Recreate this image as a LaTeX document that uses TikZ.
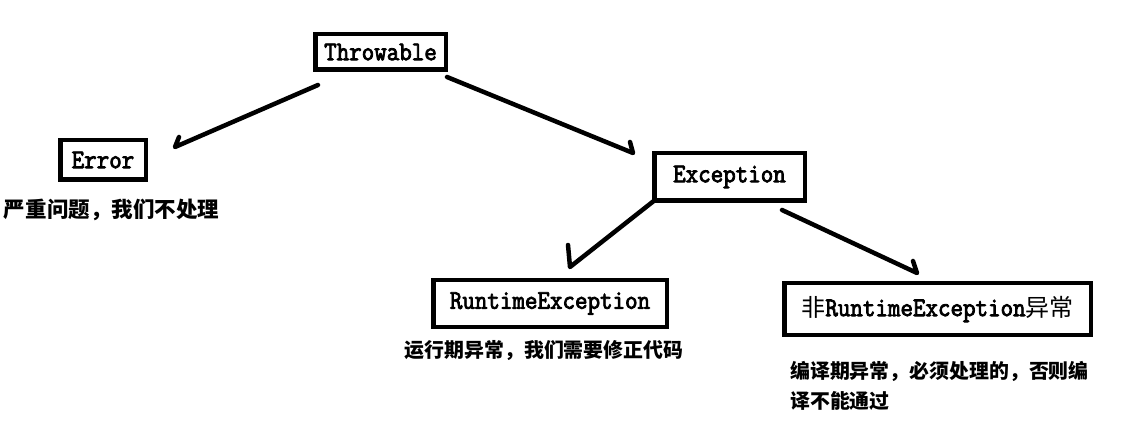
\documentclass[tikz,border=0pt]{standalone}
\usepackage{fontspec}
\newfontfamily\boxfont{Latin Modern Mono}[FakeBold=3, FakeStretch=0.9]
\newfontfamily\cjk{Noto Sans CJK SC}
\begin{document}
\begin{tikzpicture}[x=1pt,y=-1pt,
  cls/.style={draw=black, line width=4.5pt, inner sep=0pt, minimum width=#1},
  mono/.style={font=\boxfont\fontsize{27}{27}\selectfont},
  conn/.style={draw=black, line width=4.5pt, line cap=round, line join=round},
  note/.style={font=\cjk\bfseries\fontsize{19.9}{30}\selectfont, inner sep=0pt}
]
\fill[white] (0,0) rectangle (1123,443);
\useasboundingbox (0,0) rectangle (1123,443);

\node[cls=130.5pt, minimum height=35.5pt, mono] (thr) at (380.5,52) {Throwable};
\node[cls=85.5pt, minimum height=39.5pt, mono] (err) at (103,160) {Error};
\node[cls=150.5pt, minimum height=47.5pt, mono] (exc) at (729.5,177) {Exception};
\node[cls=233.5pt, minimum height=46.5pt, mono] (rte) at (550,303.5) {RuntimeException};
\node[cls=306.5pt, minimum height=51.5pt, mono] (non) at (937.5,309) {{\cjk\fontsize{24}{24}\selectfont 非}RuntimeException{\cjk\fontsize{24}{24}\selectfont 异常}};

\node[note, font=\cjk\bfseries\fontsize{21.5}{30}\selectfont] (lerr) at (111.5,210) {严重问题，我们不处理};
\node[note] (lrte) at (544,351) {运行期异常，我们需要修正代码};
\node[note, anchor=north west, align=left] (lnon) at (790,361) {编译期异常，必须处理的，否则编\\译不能通过};

\draw[conn] ([shift={(5,13)}]thr.south west) -- ([shift={(27,9)}]err.north east) -- ++(4,-10);
\draw[conn] ([shift={(-1,5)}]thr.south east) -- ([shift={(-19,2)}]exc.north west) -- ++(-3,-11);
\draw[conn] ([shift={(3,-3)}]exc.south west) -- ([shift={(20,-11)}]rte.north) -- ++(-2,-22);
\draw[conn] ([shift={(-25,7)}]exc.south east) -- ([shift={(-20.5,-8)}]non.north) -- ++(-4,-12);
\end{tikzpicture}
\end{document}
